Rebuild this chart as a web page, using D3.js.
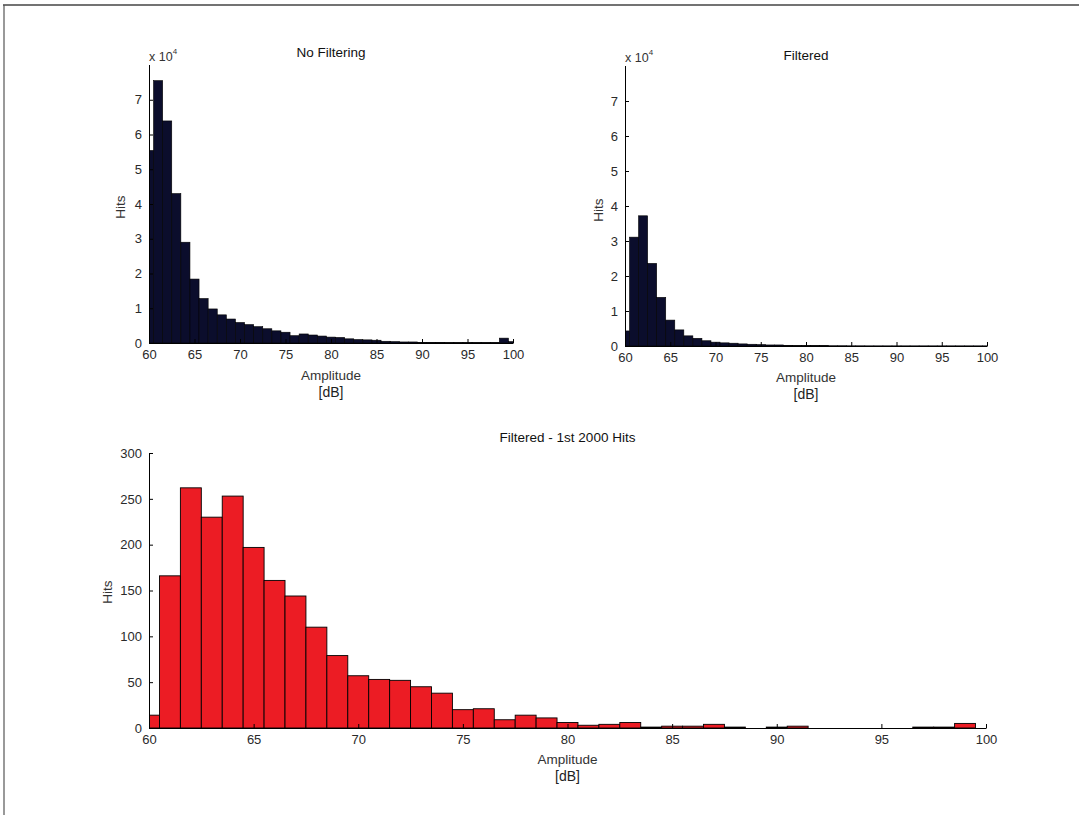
<!DOCTYPE html>
<html>
<head>
<meta charset="utf-8">
<script src="https://cdn.jsdelivr.net/npm/d3@7"></script>
<style>
  html, body { margin: 0; padding: 0; background: #fff; }
  svg { display: block; font-family: "Liberation Sans", Arial, sans-serif; }
</style>
</head>
<body>
<svg id="chart" width="1079" height="815"></svg>
<script>
// ---- data (histogram bin centres 60..100 dB, width 1 dB) ----
const binCenters = d3.range(60, 101);
const noFilteringHits = [55400, 75500, 63900, 43000, 29000, 18400, 12800, 9800, 8100, 6900,
  5900, 5300, 4700, 4100, 3500, 3100, 2100, 2600, 2300, 2000,
  1700, 1600, 1200, 1000, 900, 800, 500, 400, 300, 300,
  200, 200, 200, 100, 100, 100, 100, 100, 100, 1400, 400];
const filteredHits = [4300, 31100, 37200, 23600, 13900, 7400, 4600, 2900, 2200, 1500,
  1100, 900, 800, 600, 500, 400, 300, 300, 200, 100,
  100, 100, 100, 80, 80, 60, 60, 50, 50, 50,
  50, 50, 50, 50, 50, 50, 50, 50, 50, 50, 50];
const first2000Hits = [14, 166, 262, 230, 253, 197, 161, 144, 110, 79,
  57, 53, 52, 45, 38, 20, 21, 9, 14, 11,
  6, 3, 4, 6, 1, 2, 2, 4, 1, 0,
  1, 2, 0, 0, 0, 0, 0, 1, 1, 5, 0];
const xTicks = [60, 65, 70, 75, 80, 85, 90, 95, 100];
const topYTicks = [0, 1, 2, 3, 4, 5, 6, 7];           // in units of 10^4
const bottomYTicks = [0, 50, 100, 150, 200, 250, 300];
const titles = ["No Filtering", "Filtered", "Filtered - 1st 2000 Hits"];

const svg = d3.select("#chart");

// figure frame
svg.append("line").attr("x1", 3).attr("y1", 5).attr("x2", 1079).attr("y2", 5)
  .attr("stroke", "#444").attr("stroke-width", 1.5);
svg.append("line").attr("x1", 4).attr("y1", 5).attr("x2", 4).attr("y2", 815)
  .attr("stroke", "#555").attr("stroke-width", 1.2);

function panel(cfg) {
  const x = d3.scaleLinear().domain([60, 100]).range([cfg.x0, cfg.x1]);
  const y = d3.scaleLinear().domain([0, cfg.ymax]).range([cfg.y0, cfg.y1]);
  const id = "clip" + cfg.id;
  svg.append("clipPath").attr("id", id).append("rect")
    .attr("x", cfg.x0).attr("y", cfg.y1 - 5).attr("width", cfg.x1 - cfg.x0 + 0.5).attr("height", cfg.y0 - cfg.y1 + 5);

  const g = svg.append("g").attr("clip-path", `url(#${id})`);
  g.selectAll("rect.bar").data(binCenters.map((c, i) => ({ c, v: cfg.values[i] })))
    .join("rect").attr("class", "bar")
    .attr("x", d => x(d.c - 0.5))
    .attr("width", d => x(d.c + 0.5) - x(d.c - 0.5))
    .attr("y", d => y(d.v))
    .attr("height", d => Math.max(0, y(0) - y(d.v)))
    .attr("fill", cfg.fill)
    .attr("stroke", "#000")
    .attr("stroke-width", cfg.sw);

  // x axis (ticks inward)
  const xa = svg.append("g").attr("transform", `translate(0,${cfg.y0})`)
    .call(d3.axisBottom(x).tickValues(xTicks).tickSize(-4).tickPadding(7).tickSizeOuter(0));
  // y axis (ticks inward)
  const ya = svg.append("g").attr("transform", `translate(${cfg.x0},0)`)
    .call(d3.axisLeft(y).tickValues(cfg.yTicks).tickSize(-4).tickPadding(7).tickSizeOuter(0)
      .tickFormat(cfg.tickFmt));
  [xa, ya].forEach(a => {
    a.select(".domain").attr("stroke", "#000").attr("stroke-width", 1);
    a.selectAll(".tick line").attr("stroke", "#000");
    a.selectAll(".tick text").attr("fill", "#2a2a2a").style("font-size", "13px");
  });
  ya.select(".domain").attr("d", `M0.5,${cfg.y0}V${y(cfg.ymax)}`);

  // labels
  const cx = (cfg.x0 + cfg.x1) / 2;
  svg.append("text").attr("x", cx).attr("y", cfg.titleY).attr("text-anchor", "middle")
    .style("font-size", "13.5px").attr("fill", "#111").text(cfg.title);
  svg.append("text").attr("x", cx).attr("y", cfg.y0 + cfg.ampDy).attr("text-anchor", "middle")
    .style("font-size", "13.5px").attr("fill", "#333").text("Amplitude");
  svg.append("text").attr("x", cx).attr("y", cfg.y0 + cfg.ampDy + 17).attr("text-anchor", "middle")
    .style("font-size", "14px").attr("fill", "#222").text("[dB]");
  svg.append("text").attr("transform", `translate(${cfg.hitsX},${cfg.hitsY}) rotate(-90)`)
    .attr("text-anchor", "middle").style("font-size", "13.5px").attr("fill", "#333").text("Hits");
  if (cfg.exp) {
    const t = svg.append("text").attr("x", cfg.x0).attr("y", cfg.expY)
      .style("font-size", "12.5px").attr("fill", "#333");
    t.append("tspan").text("x 10");
    t.append("tspan").attr("dy", -7).style("font-size", "8px").text("4");
  }
}

panel({ id: 1, x0: 149, x1: 513, y0: 343, y1: 65, ymax: 80000, values: noFilteringHits,
  yTicks: topYTicks.map(v => v * 1e4), tickFmt: d => d / 1e4, fill: "#0b0d2c", sw: 0.6,
  title: titles[0], titleY: 57, ampDy: 37, hitsX: 125, hitsY: 207, exp: true, expY: 61 });
panel({ id: 2, x0: 625, x1: 987, y0: 346, y1: 66, ymax: 80000, values: filteredHits,
  yTicks: topYTicks.map(v => v * 1e4), tickFmt: d => d / 1e4, fill: "#0b0d2c", sw: 0.6,
  title: titles[1], titleY: 60, ampDy: 36, hitsX: 603, hitsY: 210, exp: true, expY: 62 });
panel({ id: 3, x0: 149, x1: 986, y0: 728, y1: 453, ymax: 300, values: first2000Hits,
  yTicks: bottomYTicks, tickFmt: d => d, fill: "#ec1c24", sw: 0.9,
  title: titles[2], titleY: 442, ampDy: 36, hitsX: 112, hitsY: 592, exp: false });
</script>
</body>
</html>
